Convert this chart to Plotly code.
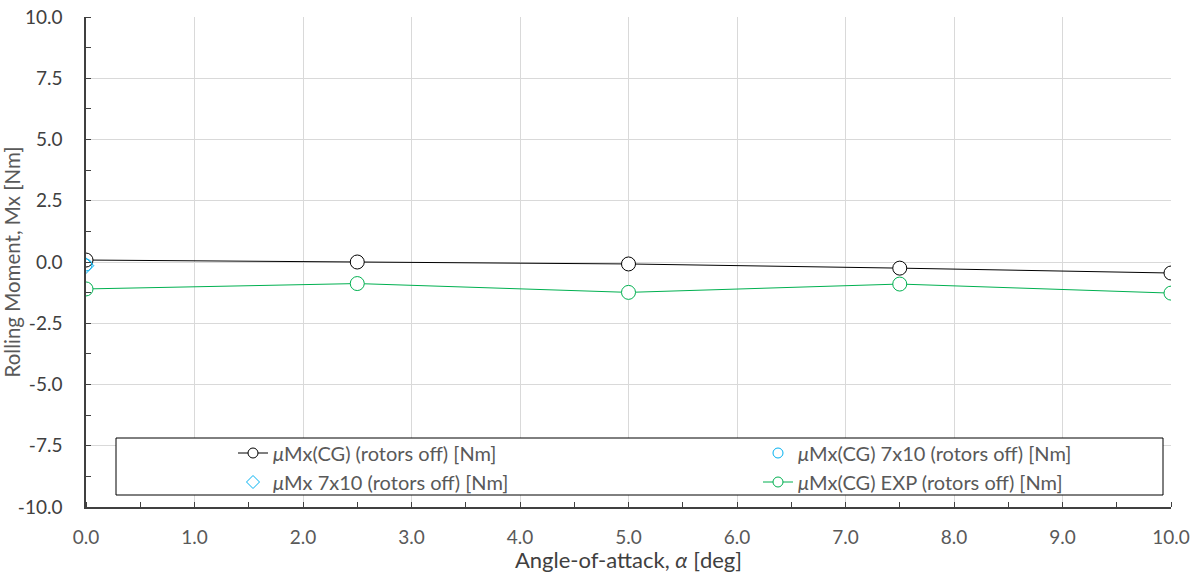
import plotly.graph_objects as go

alpha = [0.0, 2.5, 5.0, 7.5, 10.0]
mx_cg = [0.08, 0.0, -0.08, -0.25, -0.45]
mx_cg_exp = [-1.1, -0.88, -1.24, -0.9, -1.27]
alpha_7x10 = [0.0]
mx_cg_7x10 = [-0.12]
mx_7x10 = [-0.15]

x_tickvals = [0, 1, 2, 3, 4, 5, 6, 7, 8, 9, 10]
x_ticktext = ["0.0", "1.0", "2.0", "3.0", "4.0", "5.0", "6.0", "7.0", "8.0", "9.0", "10.0"]
y_tickvals = [-10, -7.5, -5, -2.5, 0, 2.5, 5, 7.5, 10]
y_ticktext = ["-10.0", "-7.5", "-5.0", "-2.5", "0.0", "2.5", "5.0", "7.5", "10.0"]

names = [
    "<i>μ</i>Mx(CG) (rotors off) [Nm]",
    "<i>μ</i>Mx(CG) 7x10 (rotors off) [Nm]",
    "<i>μ</i>Mx 7x10 (rotors off) [Nm]",
    "<i>μ</i>Mx(CG) EXP (rotors off) [Nm]",
]

FONT = "Lato"
BLACK, CYAN, GREEN = "black", "#00b0f0", "#00b050"

fig = go.Figure()
# data traces
fig.add_trace(go.Scatter(x=alpha, y=mx_cg_exp, mode="lines+markers", showlegend=False,
                         line=dict(color=GREEN, width=1),
                         marker=dict(symbol="circle", size=14, color="white", line=dict(color=GREEN, width=1))))
fig.add_trace(go.Scatter(x=alpha, y=mx_cg, mode="lines+markers", showlegend=False,
                         line=dict(color=BLACK, width=1),
                         marker=dict(symbol="circle", size=14, color="white", line=dict(color=BLACK, width=1))))
fig.add_trace(go.Scatter(x=alpha_7x10, y=mx_cg_7x10, mode="markers", showlegend=False,
                         marker=dict(symbol="circle-open", size=12, color=CYAN, line=dict(width=1))))
fig.add_trace(go.Scatter(x=alpha_7x10, y=mx_7x10, mode="markers", showlegend=False,
                         marker=dict(symbol="diamond-open", size=12, color=CYAN, line=dict(width=1))))

# legend entries (smaller symbols as in the reference legend)
leg_specs = [
    (names[0], "lines+markers", BLACK, "circle", "legend"),
    (names[1], "markers", CYAN, "circle-open", "legend2"),
    (names[2], "markers", CYAN, "diamond-open", "legend3"),
    (names[3], "lines+markers", GREEN, "circle", "legend4"),
]
for nm, mode, col, sym, lg in leg_specs:
    mk = dict(symbol=sym, size=10, color="white" if sym == "circle" else col, line=dict(color=col, width=1))
    fig.add_trace(go.Scatter(x=[None], y=[None], mode=mode, name=nm, legend=lg,
                             line=dict(color=col, width=1), marker=mk))

x0, x1, y0, y1 = 86, 1171, 17, 507
W, H = x1 - x0, y1 - y0

def px(x):
    return (x - x0) / W

def py(y):
    return (y1 - y) / H

fig.add_shape(type="rect", xref="paper", yref="paper", x0=px(116), x1=px(1163), y0=py(495), y1=py(438),
              line=dict(color="black", width=1), fillcolor="white", layer="above")

def leg(xp, yp):
    return dict(x=px(xp), y=py(yp), xanchor="left", yanchor="middle", bgcolor="rgba(0,0,0,0)",
                borderwidth=0, font=dict(family=FONT, size=20, color="#595959"))

fig.update_layout(
    width=1194, height=573,
    margin=dict(l=x0, r=1194 - x1, t=y0, b=573 - y1, autoexpand=False),
    paper_bgcolor="white", plot_bgcolor="white",
    font=dict(family=FONT, size=19, color="#595959"),
    showlegend=True,
    legend=leg(233, 453),
    legend2=leg(758, 453),
    legend3=leg(233, 482),
    legend4=leg(758, 482),
    xaxis=dict(range=[0, 10], tickvals=x_tickvals, ticktext=x_ticktext, showgrid=True, gridcolor="#d9d9d9",
               gridwidth=1, showline=True, linecolor="#404040", linewidth=1.5, ticks="", zeroline=False,
               automargin=False, ticklabelstandoff=12,
               minor=dict(dtick=0.5, tick0=0, ticks="inside", ticklen=5, tickcolor="#404040", showgrid=False),
               tickfont=dict(family=FONT, size=19, color="#595959"),
               title=dict(text="Angle-of-attack, <i>α</i> [deg]", font=dict(family=FONT, size=22, color="#404040"),
                          standoff=3)),
    yaxis=dict(range=[-10, 10], tickvals=y_tickvals, ticktext=y_ticktext, showgrid=True, gridcolor="#d9d9d9",
               gridwidth=1, showline=True, linecolor="#404040", linewidth=1.5, ticks="", zeroline=False,
               automargin=False, ticklabelstandoff=18,
               minor=dict(dtick=1.25, tick0=0, ticks="inside", ticklen=5, tickcolor="#404040", showgrid=False),
               tickfont=dict(family=FONT, size=19, color="#404040"),
               title=dict(text="Rolling Moment, Mx [Nm]", font=dict(family=FONT, size=20.5, color="#595959"),
                          standoff=0)),
)

fig.write_html("out.html", config={"displayModeBar": False},
               post_script="document.body.style.margin='0px';document.body.style.overflow='hidden';")
